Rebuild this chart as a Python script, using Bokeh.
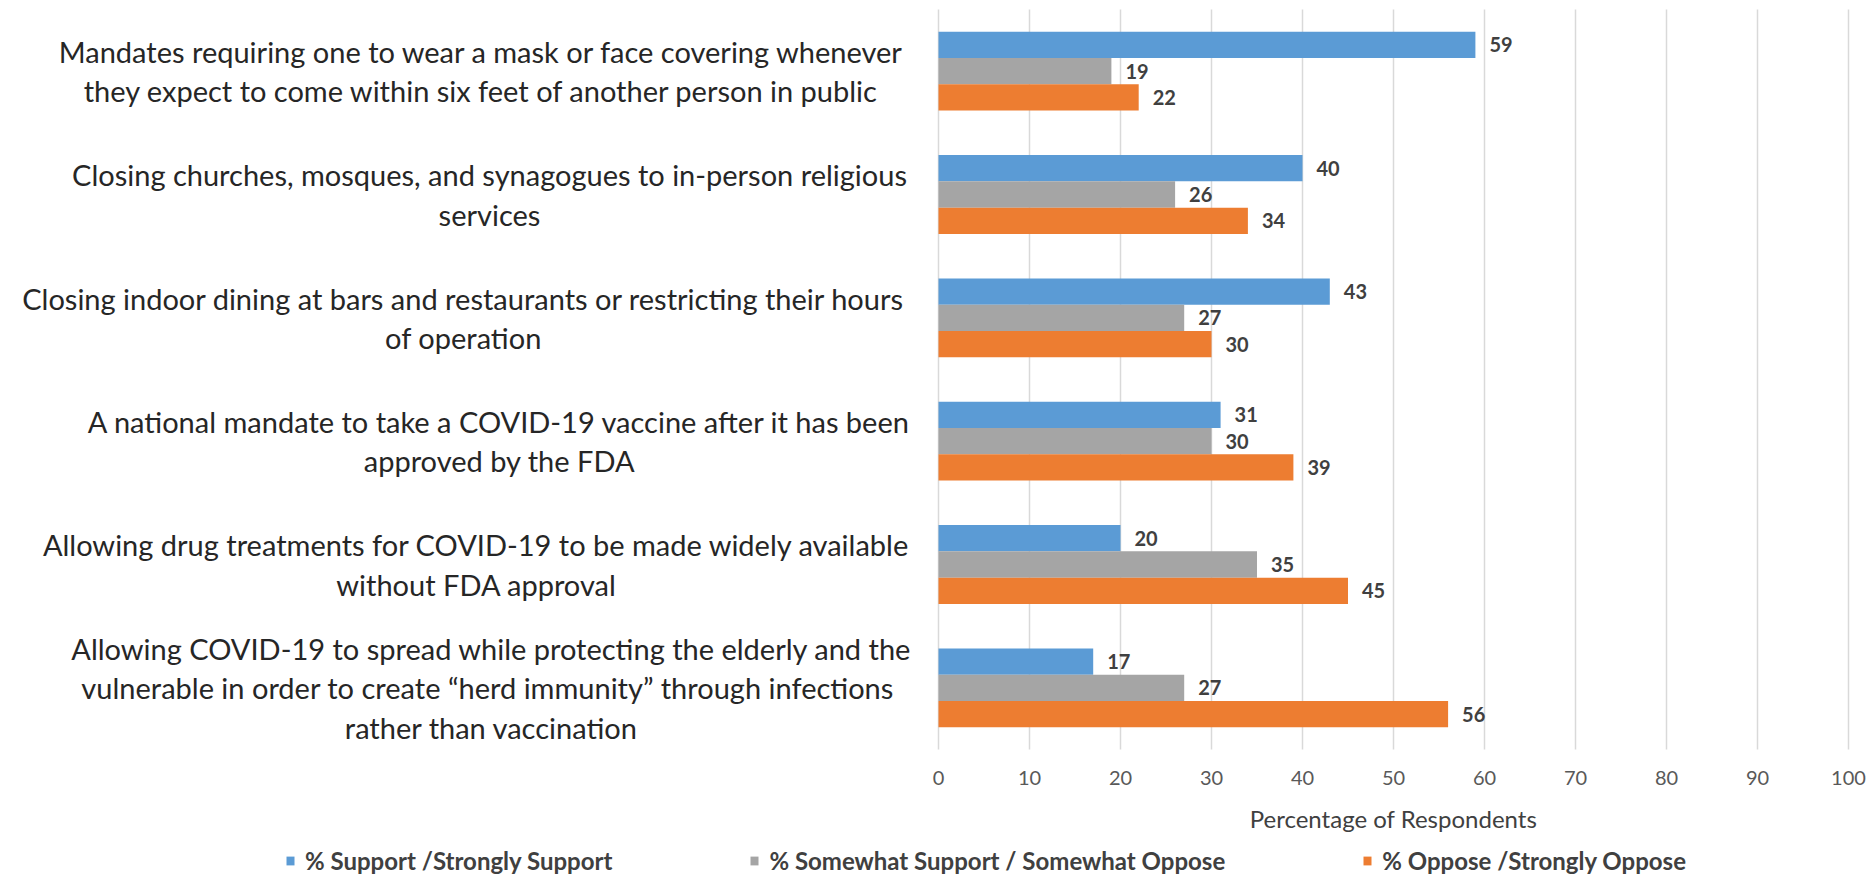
from bokeh.plotting import figure
from bokeh.models import ColumnDataSource, Range1d, Legend, LegendItem
from bokeh.core.properties import value
from bokeh.embed import file_html
from bokeh.resources import INLINE

# Survey items (top to bottom) and their wrapped label lines
topics = ["mask", "churches", "dining", "vaccine", "drugs", "herd"]
topic_lines = [
    ["Mandates requiring one to wear a mask or face covering whenever",
     "they expect to come within six feet of another person in public"],
    ["Closing churches, mosques, and synagogues to in-person religious",
     "services"],
    ["Closing indoor dining at bars and restaurants or restricting their hours",
     "of operation"],
    ["A national mandate to take a COVID-19 vaccine after it has been",
     "approved by the FDA"],
    ["Allowing drug treatments for COVID-19 to be made widely available",
     "without FDA approval"],
    ["Allowing COVID-19 to spread while protecting the elderly and the",
     "vulnerable in order to create \u201cherd immunity\u201d  through infections",
     "rather than vaccination"],
]

# Percentage of respondents per answer group
support = [59, 40, 43, 31, 20, 17]
middle = [19, 26, 27, 30, 35, 27]
oppose = [22, 34, 30, 39, 45, 56]

series_names = ["% Support /Strongly Support",
                "% Somewhat Support / Somewhat Oppose",
                "% Oppose /Strongly Oppose"]
x_ticks = [0, 10, 20, 30, 40, 50, 60, 70, 80, 90, 100]
x_title = "Percentage of Respondents"

# ---- layout (pixels on the 1873 x 880 canvas) ----
W, H = 1873, 880
PLOT_L, PLOT_R, PLOT_T, PLOT_B = 938, 1848, 9, 749
FONT = "Lato"
COLORS = ["#5B9BD5", "#A5A5A5", "#ED7D31"]
OFFSETS = [0.213, 0.0, -0.213]
BAR_H = 0.213

n = len(topics)
x_min, x_max = x_ticks[0], x_ticks[-1]
px_per_x = (PLOT_R - PLOT_L) / (x_max - x_min)
px_per_y = (PLOT_B - PLOT_T) / n
x_range = Range1d(x_min - PLOT_L / px_per_x, x_max + (W - PLOT_R) / px_per_x)
y_range = Range1d(-(H - PLOT_B) / px_per_y, n + PLOT_T / px_per_y)

# each item occupies one unit band; first item at the top
y_center = [n - i - 0.5 for i in range(n)]

p = figure(width=W, height=H, x_range=x_range, y_range=y_range,
           output_backend="svg", toolbar_location=None,
           min_border=0, min_border_left=0, min_border_right=0,
           min_border_top=0, min_border_bottom=0)
p.axis.visible = False
p.grid.visible = False
p.outline_line_color = None
p.background_fill_color = "white"
p.border_fill_color = "white"

# vertical gridlines at every tick
p.segment(x0=x_ticks, y0=[0] * len(x_ticks), x1=x_ticks, y1=[n] * len(x_ticks),
          line_color="#D9D9D9", line_width=1.5)

# tick labels and axis title under the plot area
p.text(x=x_ticks, y=[0] * len(x_ticks), text=[str(t) for t in x_ticks],
       y_offset=28, text_align="center", text_baseline="middle",
       text_font=value(FONT), text_font_size="20px", text_color="#595959")
p.text(x=[(x_min + x_max) / 2], y=[0], text=[x_title], y_offset=69,
       text_align="center", text_baseline="middle",
       text_font=value(FONT), text_font_size="24px", text_color="#404040")

source = ColumnDataSource(dict(
    y=y_center,
    support=support, middle=middle, oppose=oppose,
    support_txt=[str(v) for v in support],
    middle_txt=[str(v) for v in middle],
    oppose_txt=[str(v) for v in oppose],
))

renderers = []
for col, off, color in zip(["support", "middle", "oppose"], OFFSETS, COLORS):
    yc = [y + off for y in y_center]
    source.data["y_" + col] = yc
    r = p.hbar(y="y_" + col, left=0, right=col, height=BAR_H, source=source,
               fill_color=color, line_color=None)
    renderers.append(r)
    p.text(x=col, y="y_" + col, text=col + "_txt", source=source,
           x_offset=14, text_baseline="middle", text_align="left",
           text_font=value(FONT), text_font_style="bold",
           text_font_size="20px", text_color="#404040")

# Category labels: each block centred on its own longest line
label_centers = [481, 489, 463, 499, 476, 491]
LINE_GAP = 39.5
lx, ly, loff_x, loff_y, ltxt = [], [], [], [], []
for yc, lines, cx in zip(y_center, topic_lines, label_centers):
    k = len(lines)
    for i, line in enumerate(lines):
        lx.append(0)
        ly.append(yc)
        loff_x.append(cx - PLOT_L)
        loff_y.append((i - (k - 1) / 2) * LINE_GAP)
        ltxt.append(line)
p.text(x="x", y="y", text="t", x_offset="dx", y_offset="dy",
       source=ColumnDataSource(dict(x=lx, y=ly, t=ltxt, dx=loff_x, dy=loff_y)),
       text_align="center", text_baseline="middle",
       text_font=value(FONT), text_font_size="29px", text_color="#262626")

legend = Legend(
    items=[LegendItem(label=name, renderers=[r])
           for name, r in zip(series_names, renderers)],
    orientation="horizontal", location=(285, 5),
    spacing=137, glyph_width=10, glyph_height=11, label_standoff=10,
    padding=0, margin=0, border_line_color=None, background_fill_alpha=0,
    label_text_font=FONT, label_text_font_style="bold",
    label_text_font_size="24px", label_text_color="#404040",
)
p.add_layout(legend, "center")

open("out.html", "w").write(file_html(p, INLINE))
